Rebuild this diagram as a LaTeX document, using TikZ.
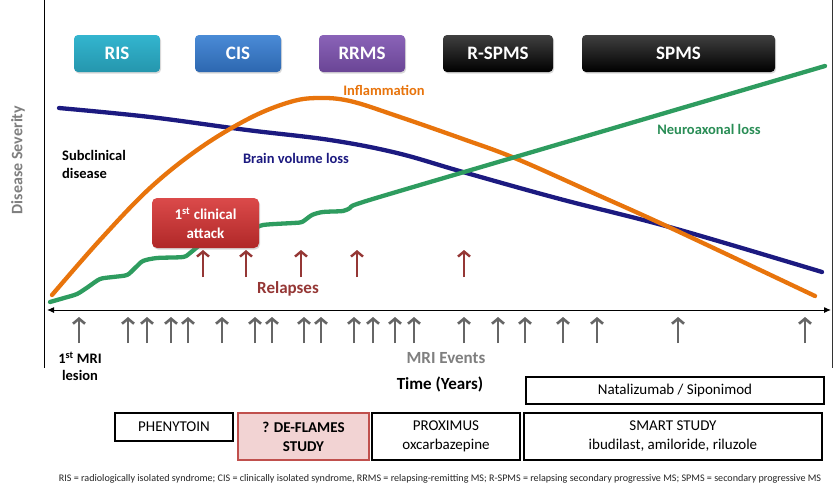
\documentclass[tikz,border=0pt]{standalone}
\usepackage{fontspec}
\setmainfont{Carlito}
\usetikzlibrary{arrows.meta,shadows}
\definecolor{risc}{HTML}{33B5CF}
\definecolor{risd}{HTML}{2596AD}
\definecolor{cisc}{HTML}{4A8BD6}
\definecolor{cisd}{HTML}{2D67B0}
\definecolor{rrc}{HTML}{8A63B8}
\definecolor{rrd}{HTML}{6A4595}
\definecolor{attc}{HTML}{DB4A4A}
\definecolor{attd}{HTML}{B02828}
\definecolor{navyc}{HTML}{1C1A80}
\definecolor{orangec}{HTML}{E8740C}
\definecolor{greenc}{HTML}{2E9C5F}
\definecolor{relc}{HTML}{953735}
\definecolor{mric}{HTML}{666666}
\definecolor{labgray}{HTML}{7F7F7F}
\definecolor{pinkc}{HTML}{F2D3D3}
\definecolor{pinkd}{HTML}{C0504D}
\tikzset{
  phase/.style={rounded corners=4pt, minimum height=37pt, inner sep=0pt, text=white,
    font=\bfseries\fontsize{19}{22}\selectfont,
    drop shadow={opacity=0.3, shadow xshift=1pt, shadow yshift=-1.5pt}},
  curve/.style={line width=4.3pt, line cap=round, line join=round},
  lab/.style={font=\bfseries\fontsize{14.5}{18}\selectfont, inner sep=0pt},
  mriarrow/.style={line width=2.6pt, mric, -{Straight Barb[length=5pt,width=12pt]}},
  relarrow/.style={line width=2.4pt, relc, -{Straight Barb[length=5pt,width=12pt]}},
  tbox/.style={draw=black, line width=2pt, inner sep=0pt, align=center,
    font=\fontsize{15}{19}\selectfont},
}
\begin{document}
\begin{tikzpicture}[x=1pt,y=-1pt]
\useasboundingbox (0,0) rectangle (840,493);
\fill[white] (0,0) rectangle (840,493);

% axes
\draw[line width=1pt] (44,0) coordinate (ytop) -- (44,368) coordinate (ybot);
\draw[line width=0.8pt, black!80] (832,0) coordinate (rtop) -- (832,368) coordinate (rbot);
\coordinate (xl) at (47,310);
\coordinate (xr) at (831,310);
\draw[line width=1pt, {Latex[length=7pt,width=6pt]}-{Latex[length=7pt,width=6pt]}] (xl) -- (xr);
\node[rotate=90, text=labgray, font=\bfseries\fontsize{16}{18}\selectfont] (ylab) at (18,160) {Disease Severity};

% phase boxes
\node[phase, top color=risc, bottom color=risd, minimum width=86pt] (ris) at (117,53.5) {RIS};
\node[phase, top color=cisc, bottom color=cisd, minimum width=86pt] (cis) at (238,53.5) {CIS};
\node[phase, top color=rrc, bottom color=rrd, minimum width=86pt] (rrms) at (362,53.5) {RRMS};
\node[phase, top color=black!75, bottom color=black, minimum width=110pt] (rspms) at (498,53.5) {R-SPMS};
\node[phase, top color=black!75, bottom color=black, minimum width=193pt] (spms) at (678.5,53.5) {SPMS};

% curves
\draw[curve, navyc] plot[smooth, tension=0.6] coordinates {(59,108) (150,117) (247,130) (330,140) (397,153) (463,172) (560,199) (673,228) (822,272)};
\draw[curve, orangec] plot[smooth, tension=0.6] coordinates {(52,295) (100,240) (150,188) (200,148) (250,118) (290,102) (318,98) (350,101) (397,116) (463,139) (517,159) (600,196) (673,229) (815,296)};
\draw[curve, greenc] plot[smooth, tension=0.45] coordinates {(50,302) (64,298) (77,294) (88,287) (100,279) (113,277) (127,275) (135,268) (143,261) (157,258) (183,257) (190,253) (200,245) (213,238) (233,237) (245,236) (253,230) (263,225) (293,223) (302,222) (312,215) (323,212) (343,211) (350,208) (357,204) (420,185) (825,66)};

% curve labels
\node[lab, text=orangec] (infl) at (384,90) {Inflammation};
\node[lab, text=greenc!90!black] (neuro) at (709,129) {Neuroaxonal loss};
\node[lab, text=navyc] (brain) at (296,158) {Brain volume loss};
\node[lab, align=left, anchor=west] (subc) at (62,164) {Subclinical\\disease};

% first clinical attack
\node[rounded corners=5pt, top color=attc, bottom color=attd, minimum width=107pt, minimum height=50pt,
  inner sep=0pt, align=center, text=white, font=\bfseries\fontsize{15}{19}\selectfont,
  drop shadow={opacity=0.3, shadow xshift=1pt, shadow yshift=-1.5pt}] (attack) at (205.5,223)
  {1\textsuperscript{st} clinical\\attack};

% relapse arrows
\foreach \x [count=\i] in {203,246,301,357,464} {
  \coordinate (rb\i) at (\x,277);
  \coordinate (rt\i) at (\x,250);
  \draw[relarrow] (rb\i) -- (rt\i);
}
\node[text=relc, font=\bfseries\fontsize{17}{20}\selectfont] (relapses) at (288,289) {Relapses};

% MRI arrows
\foreach \x [count=\i] in {79,128,147,171,188,222,255,272,304,321,354,373,395,414,464,498,525,563,597,678,805} {
  \coordinate (mb\i) at (\x,343);
  \coordinate (mt\i) at (\x,317);
  \draw[mriarrow] (mb\i) -- (mt\i);
}
\node[lab, align=center, font=\bfseries\fontsize{14.5}{17}\selectfont] (mri1) at (80,366) {1\textsuperscript{st} MRI\\lesion};
\node[text=labgray, font=\bfseries\fontsize{17}{20}\selectfont] (mriev) at (446,358) {MRI Events};
\node[font=\bfseries\fontsize{17}{20}\selectfont] (time) at (440,384) {Time (Years)};

% treatment boxes
\node[tbox, minimum width=298pt, minimum height=27pt] (nat) at (675,390.5) {Natalizumab / Siponimod};
\node[tbox, minimum width=118pt, minimum height=28pt] (phen) at (174,427) {PHENYTOIN};
\node[tbox, fill=pinkc, draw=pinkd, minimum width=131pt, minimum height=47pt, font=\bfseries\fontsize{15}{19}\selectfont] (defl) at (303.5,436.5) {? DE-FLAMES\\STUDY};
\node[tbox, minimum width=148pt, minimum height=47pt] (prox) at (446,436.5) {PROXIMUS\\oxcarbazepine};
\node[tbox, minimum width=298pt, minimum height=47pt] (smart) at (673,436.5) {SMART STUDY\\ibudilast, amiloride, riluzole};

% footnote
\node[font=\fontsize{10.1}{12}\selectfont, text=black!85] (foot) at (440,479) {RIS = radiologically isolated syndrome; CIS = clinically isolated syndrome, RRMS = relapsing-remitting MS; R-SPMS = relapsing secondary progressive MS; SPMS = secondary progressive MS};
\end{tikzpicture}
\end{document}
